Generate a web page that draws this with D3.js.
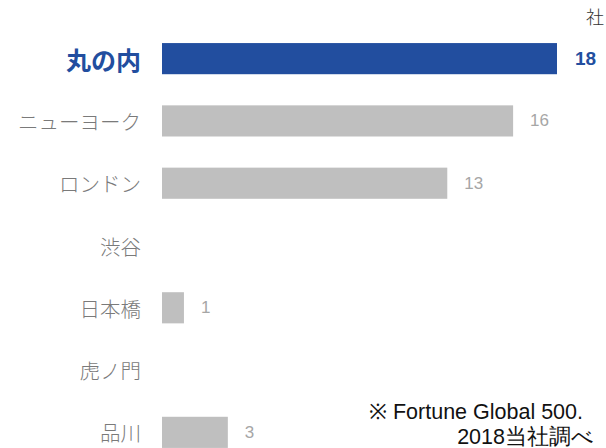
<!DOCTYPE html>
<html><head><meta charset="utf-8">
<script src="https://cdn.jsdelivr.net/npm/d3@7"></script>
<style>body{margin:0;background:#fff}</style>
</head><body>
<svg id="c" width="606" height="448"></svg>
<script>
const categories = ["丸の内","ニューヨーク","ロンドン","渋谷","日本橋","虎ノ門","品川"];
const values = [18,16,13,0,1,0,3];
const highlight = ["丸の内"];
const unitLabel = "社";
const noteLines = ["※ Fortune Global 500.","2018当社調べ"];

const svg = d3.select("#c");
const x = d3.scaleLinear().domain([0,18]).range([162,557]);
const y = d3.scaleBand().domain(categories).range([27.5,463.5]).paddingInner(0.5).paddingOuter(0.25);
const data = categories.map((c,i)=>({c, v:values[i], hi: highlight.includes(c)}));
const jp = "'Noto Sans CJK JP', sans-serif";
const num = "'Liberation Sans', Arial, sans-serif";

svg.selectAll("rect.bar").data(data.filter(d=>d.v>0)).join("rect")
  .attr("x", x(0)).attr("y", d=>y(d.c))
  .attr("width", d=>x(d.v)-x(0)).attr("height", y.bandwidth())
  .attr("fill", d=>d.hi?"#224e9f":"#bfbfbf");

svg.selectAll("text.cat").data(data).join("text")
  .attr("x", 141).attr("y", d=>y(d.c)+y.bandwidth()/2)
  .attr("text-anchor","end").attr("dominant-baseline","central")
  .style("font-family", jp)
  .style("font-size", d=>d.hi?"25px":"20.5px")
  .style("font-weight", d=>d.hi?"700":"300")
  .attr("fill", d=>d.hi?"#224e9f":"#7a7a7a")
  .text(d=>d.c);

svg.selectAll("text.val").data(data.filter(d=>d.v>0)).join("text")
  .attr("x", d=>x(d.v)+(d.hi?18:17)).attr("y", d=>y(d.c)+y.bandwidth()/2)
  .attr("dominant-baseline","central")
  .style("font-family", num)
  .style("font-size", d=>d.hi?"19px":"17px")
  .style("font-weight", d=>d.hi?"700":"400")
  .attr("fill", d=>d.hi?"#224e9f":"#a6a6a6")
  .text(d=>d.v);

svg.append("text").attr("x",604).attr("y",24).attr("text-anchor","end")
  .style("font-family", jp).style("font-size","18px").style("font-weight","300").attr("fill","#333").text(unitLabel);

svg.selectAll("text.note").data(noteLines).join("text")
  .attr("x",(d,i)=>i===0?583:594).attr("y",(d,i)=>419+i*25)
  .attr("text-anchor","end")
  .style("font-family", num).style("font-size","21.5px").attr("fill","#111")
  .text(d=>d);
</script>
</body></html>
